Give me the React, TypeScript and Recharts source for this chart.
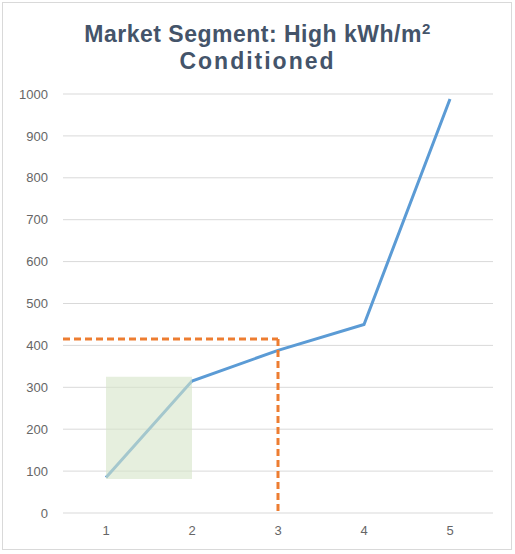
import { LineChart, Line, XAxis, YAxis, CartesianGrid, ReferenceArea, ReferenceLine } from 'recharts'

const categories = [1, 2, 3, 4, 5]
const values = [85, 315, 388, 450, 988]
const yTicks = [0, 100, 200, 300, 400, 500, 600, 700, 800, 900, 1000]
const zone = { x1: 1, x2: 2, y1: 81, y2: 325 }
const target = { x: 3, y: 415 }

const data = categories.map((c, i) => ({ x: c, value: values[i] }))

export default function App() {
  return (
    <div style={{ position: 'absolute', left: 0, top: 0, width: 515, height: 554, background: '#fff', fontFamily: '"Liberation Sans", Arial, sans-serif' }}>
      <div style={{ position: 'absolute', left: 2, top: 2, width: 508, height: 546, border: '1px solid #d9d9d9' }} />
      <div style={{ position: 'absolute', left: 0, top: 22, width: 515, textAlign: 'center', fontSize: 23, lineHeight: '24px', fontWeight: 'bold', color: '#44546a' }}>
        <div style={{ letterSpacing: 0.5 }}>Market Segment: High kWh/m<span style={{ fontSize: 15, position: 'relative', top: -8 }}>2</span></div>
        <div style={{ letterSpacing: 2 }}>Conditioned</div>
      </div>
      <LineChart width={515} height={554} data={data} margin={{ top: 94, right: 22, bottom: 11, left: 8 }} style={{ position: 'absolute', left: 0, top: 0 }}>
        <CartesianGrid vertical={false} stroke="#d9d9d9" strokeWidth={1} />
        <XAxis dataKey="x" type="number" domain={[0.5, 5.5]} ticks={categories} height={30} axisLine={false} tickLine={false} tickSize={0} tickMargin={13} tick={{ fill: '#666666', fontSize: 13 }} />
        <YAxis type="number" domain={[0, 1000]} ticks={yTicks} width={55} axisLine={false} tickLine={false} tickSize={0} tickMargin={15} tick={{ fill: '#666666', fontSize: 13 }} />
        <Line dataKey="value" stroke="#5b9bd5" strokeWidth={3} dot={false} isAnimationActive={false} />
        <ReferenceArea x1={zone.x1} x2={zone.x2} y1={zone.y1} y2={zone.y2} fill="#d5e4c8" fillOpacity={0.6} stroke="none" zIndex={700} />
        <ReferenceLine segment={[{ x: 0.5, y: target.y }, { x: target.x, y: target.y }]} stroke="#ed7d31" strokeWidth={3} strokeDasharray="7 4" />
        <ReferenceLine segment={[{ x: target.x, y: target.y }, { x: target.x, y: 0 }]} stroke="#ed7d31" strokeWidth={3} strokeDasharray="7 4" />
      </LineChart>
    </div>
  )
}
